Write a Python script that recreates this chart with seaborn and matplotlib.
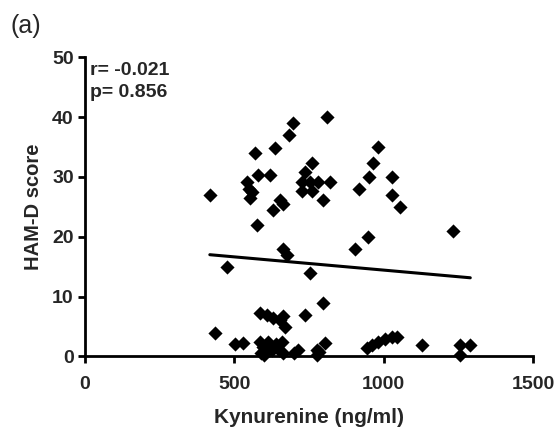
import matplotlib
matplotlib.use("Agg")
import matplotlib.pyplot as plt
import seaborn as sns
import pandas as pd

kynurenine = [418, 474, 541, 550, 558, 552, 569, 580, 619, 576, 636, 653, 663, 630,
              684, 697, 809, 759, 737, 725, 753, 780, 820, 725, 759, 797, 663, 676,
              753, 904, 947, 918, 952, 963, 980, 1027, 1027, 1054, 1232,
              435, 502, 529, 586, 608, 630, 653, 663, 669, 736, 797, 586, 613, 658,
              590, 625, 663, 713, 776, 803, 776, 943, 960, 981, 1004, 1027, 1043,
              1127, 1255, 1290, 1255,
              595, 640, 600, 650, 700, 785]
hamd = [27, 15, 29.2, 28, 27.5, 26.5, 34, 30.3, 30.3, 22, 34.8, 26.2, 25.5, 24.5,
        37, 39, 40, 32.3, 30.9, 29.2, 29.2, 29.2, 29.2, 27.6, 27.6, 26.2, 18, 17,
        14, 18, 20, 28, 30, 32.3, 35, 30, 27, 25, 21,
        4, 2, 2.2, 7.2, 6.9, 6.4, 6.1, 6.7, 5, 7, 9, 2.5, 2.5, 2.5,
        0.6, 1.1, 0.6, 1.1, 1.1, 2.2, 0.2, 1.4, 1.9, 2.5, 3, 3.3, 3.3,
        1.9, 1.9, 1.9, 0.2,
        1.5, 2.0, 0.3, 1.0, 0.5, 0.8]
x_ticks = [0, 500, 1000, 1500]
y_ticks = [0, 10, 20, 30, 40, 50]
stats_text = ["r= -0.021", "p= 0.856"]

df = pd.DataFrame({"Kynurenine (ng/ml)": kynurenine, "HAM-D score": hamd})

sns.set_style("ticks")
plt.rcParams["font.family"] = ["Liberation Sans", "DejaVu Sans"]

fig = plt.figure(figsize=(5.59, 4.30), dpi=100)
ax = fig.add_axes([0.152, 0.171, 0.8015, 0.696])

sns.regplot(data=df, x="Kynurenine (ng/ml)", y="HAM-D score", ax=ax, ci=None,
            marker="D", color="black",
            scatter_kws={"s": 52, "clip_on": False, "linewidths": 0, "alpha": 1},
            line_kws={"lw": 2.2, "color": "black"})

ax.set_xlim(0, 1500)
ax.set_ylim(0, 50)
ax.set_xticks(x_ticks)
ax.set_yticks(y_ticks)
for s in ["top", "right"]:
    ax.spines[s].set_visible(False)
for s in ["left", "bottom"]:
    ax.spines[s].set_linewidth(2.0)
    ax.spines[s].set_color("black")
ax.tick_params(axis="both", direction="out", length=5, width=2.0, color="black",
               labelsize=14, pad=3)
ax.tick_params(axis="x", pad=9)
for lab in ax.get_xticklabels() + ax.get_yticklabels():
    lab.set_fontweight("bold")
ax.set_xlabel("Kynurenine (ng/ml)", fontsize=15, fontweight="bold", labelpad=11)
ax.set_ylabel("HAM-D score", fontsize=14.5, fontweight="bold", labelpad=7)

ax.text(0.012, 0.985, stats_text[0] + "\n" + stats_text[1], transform=ax.transAxes,
        fontsize=14, fontweight="bold", va="top", ha="left", linespacing=1.4)
fig.text(0.018, 0.94, "(a)", fontsize=18, ha="left", va="center")

fig.savefig("out.png", dpi=100)
